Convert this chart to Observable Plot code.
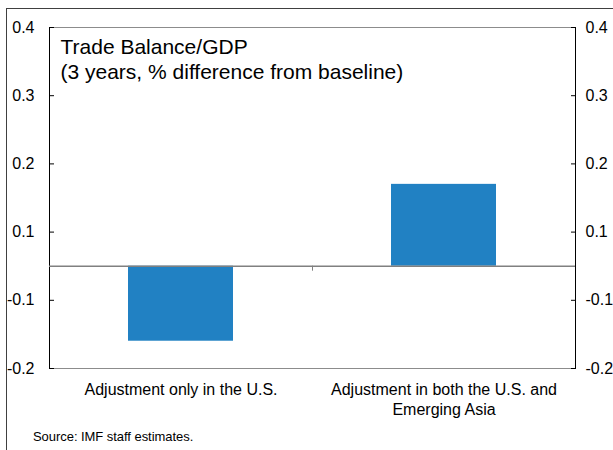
<!DOCTYPE html>
<html>
<head>
<meta charset="utf-8">
<script src="https://cdn.jsdelivr.net/npm/d3@7"></script>
<script src="https://cdn.jsdelivr.net/npm/@observablehq/plot@0.6"></script>
<style>
html, body { margin: 0; padding: 0; background: #fff; }
body { width: 613px; height: 450px; position: relative; overflow: hidden; font-family: "Liberation Sans", Arial, sans-serif; }
#border { position: absolute; left: 6px; top: 8px; right: -2px; bottom: -2px; border-left: 1px solid #404040; border-top: 1px solid #404040; }
#chart { position: absolute; left: 0; top: 0; }
#caption { position: absolute; left: 33px; top: 420px; height: 30px; line-height: 34px; font-size: 13px; letter-spacing: -0.05px; color: #000; }
</style>
</head>
<body>
<div id="border"></div>
<div id="chart"></div>
<div id="caption">Source: IMF staff estimates.</div>
<script>
// ---- data ----
const categories = ["Adjustment only in the U.S.", "Adjustment in both the U.S. and Emerging Asia"];
const categoryLabels = ["Adjustment only in the U.S.", "Adjustment in both the U.S. and\nEmerging Asia"];
const values = [-0.16, 0.17];
const yTicks = [-0.2, -0.1, 0.1, 0.2, 0.3, 0.4];
const yTickLabels = ["-0.2", "-0.1", "0.1", "0.2", "0.3", "0.4"];
const titleLines = ["Trade Balance/GDP", "(3 years, % difference from baseline)"];

const data = categories.map((c, i) => ({cat: c, value: values[i]}));

// ---- layout ----
const W = 613, H = 420;
const mt = 27, mb = 52, ml = 49, mr = 38;
const yTopPx = mt, yBottomPx = H - mb;
const stepPx = (yBottomPx - yTopPx) / 5; // the source axis places its 6 labels evenly
const yDomain = [-0.2, -0.1, 0.1, 0.4];
const yRange = [yBottomPx, yBottomPx - stepPx, yBottomPx - 2 * stepPx, yTopPx];

const xScaleOpts = {type: "band", domain: categories, paddingInner: 0.6, paddingOuter: 0.3};
const xs = Plot.scale({x: {...xScaleOpts, range: [ml, W - mr]}});

const fmtY = d => yTickLabels[yTicks.indexOf(d)];
const fmtX = d => categoryLabels[categories.indexOf(d)];

const chart = Plot.plot({
  width: W,
  height: H,
  marginTop: mt,
  marginBottom: mb,
  marginLeft: ml,
  marginRight: mr,
  style: {fontFamily: "'Liberation Sans', Arial, sans-serif", color: "#000", background: "transparent", overflow: "visible"},
  x: xScaleOpts,
  y: {type: "linear", domain: yDomain, range: yRange},
  marks: [
    Plot.frame({stroke: "#000"}),
    Plot.ruleY([yDomain[0], yDomain[yDomain.length - 1]], {stroke: "#8c8c8c"}),
    Plot.barY(data, {x: "cat", y: "value", fill: "#2181c3"}),
    Plot.ruleY([0], {stroke: "#808080", strokeWidth: 1.5}),
    Plot.ruleX([categories[1]], {y1: 0, y2: 0, dx: -xs.step / 2, insetBottom: -5, stroke: "#808080"}),
    Plot.axisY({anchor: "left", ticks: yTicks, tickFormat: fmtY, tickSize: -5, tickPadding: 20, fontSize: 16, stroke: "#000", label: null}),
    Plot.axisY({anchor: "right", ticks: yTicks, tickFormat: fmtY, tickSize: -5, tickPadding: 15, fontSize: 16, stroke: "#000", label: null}),
    Plot.axisX({anchor: "bottom", tickSize: 0, tickPadding: 12, fontSize: 16, lineHeight: 1.25, tickFormat: fmtX, label: null}),
    Plot.text([titleLines.join("\n")], {text: d => d, frameAnchor: "top-left", dx: 11, dy: 8, lineAnchor: "top", textAnchor: "start", fontSize: 21, lineHeight: 1.22, fill: "#000"})
  ]
});
document.getElementById("chart").appendChild(chart);
</script>
</body>
</html>
